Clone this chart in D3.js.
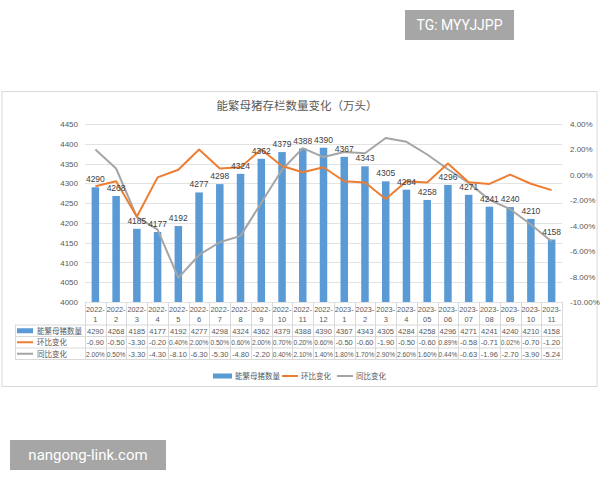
<!DOCTYPE html>
<html>
<head>
<meta charset="utf-8">
<script src="https://cdn.jsdelivr.net/npm/d3@7"></script>
<style>
  body { margin: 0; background: #fff; }
  svg { display: block; font-family: "Noto Sans CJK SC", "Noto Sans", sans-serif; }
</style>
</head>
<body>
<div id="chartPlaceholder"></div>
<script>
const months = ["2022-1", "2022-2", "2022-3", "2022-4", "2022-5", "2022-6", "2022-7", "2022-8", "2022-9", "2022-10", "2022-11", "2022-12",
  "2023-1", "2023-2", "2023-3", "2023-4", "2023-05", "2023-06", "2023-07", "2023-08", "2023-09", "2023-10", "2023-11"];
const sowStock = [4290, 4268, 4185, 4177, 4192, 4277, 4298, 4324, 4362, 4379, 4388, 4390, 4367, 4343, 4305, 4284, 4258, 4296, 4271, 4241, 4240, 4210, 4158];
const momChange = [-0.9, -0.5, -3.3, -0.2, 0.4, 2.0, 0.5, 0.6, 2.0, 0.7, 0.2, 0.6, -0.5, -0.6, -1.9, -0.5, -0.6, 0.89, -0.58, -0.71, 0.02, -0.7, -1.2];
const yoyChange = [2.0, 0.5, -3.3, -4.3, -8.1, -6.3, -5.3, -4.8, -2.2, 0.4, 2.1, 1.4, 1.8, 1.7, 2.9, 2.6, 1.6, 0.44, -0.63, -1.96, -2.7, -3.9, -5.24];
// table texts as printed in the source sheet
const momText = ["-0.90", "-0.50", "-3.30", "-0.20", "0.40%", "2.00%", "0.50%", "0.60%", "2.00%", "0.70%", "0.20%", "0.60%",
  "-0.50", "-0.60", "-1.90", "-0.50", "-0.60", "0.89%", "-0.58", "-0.71", "0.02%", "-0.70", "-1.20"];
const yoyText = ["2.00%", "0.50%", "-3.30", "-4.30", "-8.10", "-6.30", "-5.30", "-4.80", "-2.20", "0.40%", "2.10%", "1.40%",
  "1.80%", "1.70%", "2.90%", "2.60%", "1.60%", "0.44%", "-0.63", "-1.96", "-2.70", "-3.90", "-5.24"];
const leftTicks = [4000, 4050, 4100, 4150, 4200, 4250, 4300, 4350, 4400, 4450];
const rightTicks = [-10, -8, -6, -4, -2, 0, 2, 4];
const seriesNames = ["能繁母猪数量", "环比变化", "同比变化"];
const title = "能繁母猪存栏数量变化（万头）";

const blue = "#5b9bd5", orange = "#ed7d31", grey = "#a5a5a5", textColor = "#595959";

const svg = d3.select("#chartPlaceholder").append("svg")
  .attr("width", 600).attr("height", 480);

// watermarks
svg.append("rect").attr("x", 405).attr("y", 10).attr("width", 109).attr("height", 30).attr("fill", "#a6a6a6");
svg.append("text").attr("x", 459.5).attr("y", 30).attr("text-anchor", "middle")
  .attr("fill", "#fff").style("font-size", "14px").style("font-family", "Roboto, sans-serif").text("TG: MYYJJPP");
svg.append("rect").attr("x", 10).attr("y", 440).attr("width", 156).attr("height", 30).attr("fill", "#a6a6a6");
svg.append("text").attr("x", 88).attr("y", 460).attr("text-anchor", "middle")
  .attr("fill", "#fff").style("font-size", "15px").style("font-family", "Roboto, sans-serif").text("nangong-link.com");

// chart frame
svg.append("rect").attr("x", 2).attr("y", 91.5).attr("width", 595).attr("height", 295)
  .attr("fill", "#fff").attr("stroke", "#d9d9d9");

svg.append("text").attr("x", 297).attr("y", 110).attr("text-anchor", "middle")
  .attr("fill", textColor).style("font-size", "11.5px").text(title);

const plot = { left: 85, right: 562, top: 124, bottom: 302 };

const x = d3.scaleBand().domain(months).range([plot.left, plot.right]);
const yLeft = d3.scaleLinear().domain([4000, 4450]).range([plot.bottom, plot.top]);
const yRight = d3.scaleLinear().domain([-10, 4]).range([plot.bottom, plot.top]);

// gridlines
svg.append("g").selectAll("line").data(leftTicks).join("line")
  .attr("x1", plot.left).attr("x2", plot.right)
  .attr("y1", (d) => Math.round(yLeft(d)) + 0.5).attr("y2", (d) => Math.round(yLeft(d)) + 0.5)
  .attr("stroke", "#e3e3e3");

// left axis
const leftAxis = svg.append("g").attr("transform", `translate(${plot.left - 4}, 0)`)
  .call(d3.axisLeft(yLeft).tickValues(leftTicks).tickSize(0).tickFormat(d3.format("d")));
leftAxis.select(".domain").remove();
leftAxis.selectAll("text").attr("fill", textColor).style("font-size", "8px").style("font-family", "Liberation Sans, sans-serif");

// right axis
const rightAxis = svg.append("g").attr("transform", `translate(${plot.right + 5}, 0)`)
  .call(d3.axisRight(yRight).tickValues(rightTicks).tickSize(0).tickFormat((d) => d.toFixed(2) + "%"));
rightAxis.select(".domain").remove();
rightAxis.selectAll("text").attr("fill", textColor).style("font-size", "8px").style("font-family", "Liberation Sans, sans-serif");

// bars
const barWidth = 7.5;
svg.append("g").selectAll("rect").data(sowStock).join("rect")
  .attr("x", (d, i) => x(months[i]) + x.bandwidth() / 2 - barWidth / 2)
  .attr("y", (d) => yLeft(d))
  .attr("width", barWidth)
  .attr("height", (d) => plot.bottom - yLeft(d))
  .attr("fill", blue);

// lines
const lineGen = (scale) => d3.line()
  .x((d, i) => x(months[i]) + x.bandwidth() / 2)
  .y((d) => scale(d));

svg.append("path").datum(yoyChange).attr("d", lineGen(yRight))
  .attr("fill", "none").attr("stroke", grey).attr("stroke-width", 2).attr("stroke-linejoin", "round");
svg.append("path").datum(momChange).attr("d", lineGen(yRight))
  .attr("fill", "none").attr("stroke", orange).attr("stroke-width", 2).attr("stroke-linejoin", "round");

// bar labels
svg.append("g").selectAll("text").data(sowStock).join("text")
  .attr("x", (d, i) => x(months[i]) + x.bandwidth() / 2)
  .attr("y", (d) => yLeft(d) - 5)
  .attr("text-anchor", "middle")
  .attr("fill", "#404040")
  .style("font-size", "8.5px")
  .style("font-family", "Liberation Sans, sans-serif")
  .text((d) => d);

// data table
const tableLeft = 15;
const rowEdges = [plot.bottom, 325, 336.5, 348, 359.5];
const table = svg.append("g").attr("stroke", "#d9d9d9").attr("fill", "none");
months.forEach((m, i) => {
  const x0 = Math.round(x(m)) + 0.5;
  table.append("line").attr("x1", x0).attr("x2", x0).attr("y1", plot.bottom).attr("y2", rowEdges[4]);
});
table.append("line").attr("x1", plot.right + 0.5).attr("x2", plot.right + 0.5).attr("y1", plot.bottom).attr("y2", rowEdges[4]);
table.append("line").attr("x1", tableLeft + 0.5).attr("x2", tableLeft + 0.5).attr("y1", rowEdges[1]).attr("y2", rowEdges[4]);
rowEdges.slice(1).forEach((y0) => {
  table.append("line").attr("x1", tableLeft).attr("x2", plot.right).attr("y1", y0).attr("y2", y0);
});

const tableText = svg.append("g").attr("fill", textColor)
  .style("font-size", "7.5px").style("font-family", "Liberation Sans, sans-serif").attr("text-anchor", "middle");
const maxCell = x.bandwidth() - 2;
function cellText(cx, cy, str) {
  const t = tableText.append("text").attr("x", cx).attr("y", cy).text(str);
  const w = t.node().getComputedTextLength();
  if (w > maxCell) {
    t.attr("textLength", maxCell).attr("lengthAdjust", "spacingAndGlyphs");
  }
}
months.forEach((m, i) => {
  const cx = x(m) + x.bandwidth() / 2;
  const parts = m.split("-");
  cellText(cx, 312, parts[0] + "-");
  cellText(cx, 322, parts[1]);
  cellText(cx, 333.5, sowStock[i]);
  cellText(cx, 345, momText[i]);
  cellText(cx, 356.5, yoyText[i]);
});

// row headers with legend keys
const rowKeys = [
  { name: seriesNames[0], color: blue, bar: true },
  { name: seriesNames[1], color: orange, bar: false },
  { name: seriesNames[2], color: grey, bar: false },
];
rowKeys.forEach((k, i) => {
  const cy = (rowEdges[i + 1] + rowEdges[i + 2]) / 2;
  if (k.bar) {
    svg.append("rect").attr("x", 17).attr("y", cy - 2.5).attr("width", 16).attr("height", 5).attr("fill", k.color);
  } else {
    svg.append("line").attr("x1", 17).attr("x2", 33).attr("y1", cy).attr("y2", cy)
      .attr("stroke", k.color).attr("stroke-width", 2);
  }
  svg.append("text").attr("x", 37).attr("y", cy + 3).attr("fill", textColor)
    .style("font-size", "7.5px").text(k.name);
});

// legend
const legendY = 376;
const legend = svg.append("g");
legend.append("rect").attr("x", 213).attr("y", legendY - 2.5).attr("width", 19).attr("height", 5).attr("fill", blue);
legend.append("text").attr("x", 235).attr("y", legendY + 3).attr("fill", textColor).style("font-size", "7.5px").text(seriesNames[0]);
legend.append("line").attr("x1", 282).attr("x2", 298).attr("y1", legendY).attr("y2", legendY).attr("stroke", orange).attr("stroke-width", 2);
legend.append("text").attr("x", 301).attr("y", legendY + 3).attr("fill", textColor).style("font-size", "7.5px").text(seriesNames[1]);
legend.append("line").attr("x1", 337).attr("x2", 353).attr("y1", legendY).attr("y2", legendY).attr("stroke", grey).attr("stroke-width", 2);
legend.append("text").attr("x", 356).attr("y", legendY + 3).attr("fill", textColor).style("font-size", "7.5px").text(seriesNames[2]);
</script>
</body>
</html>
